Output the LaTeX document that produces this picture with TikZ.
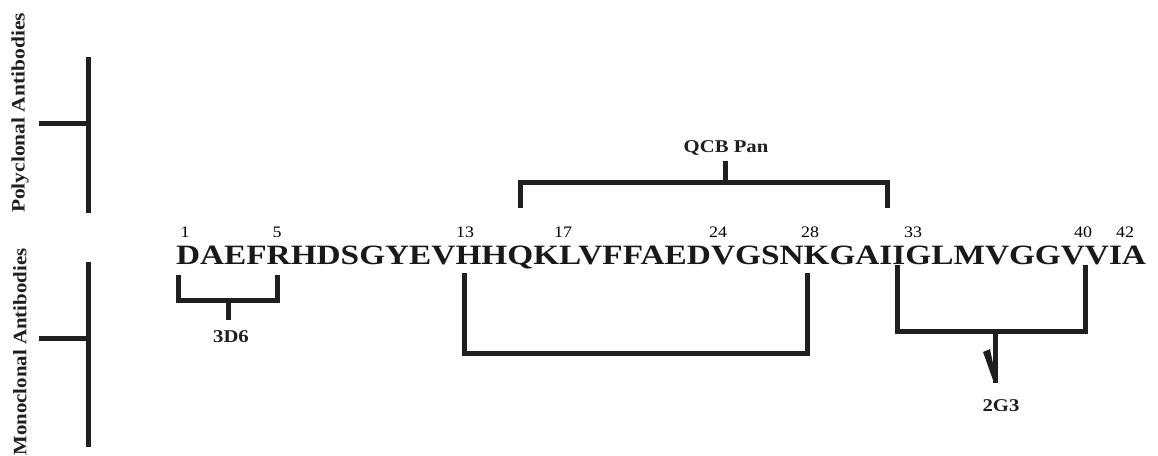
\documentclass[tikz,border=0pt]{standalone}
\usepackage{fontspec}
\setmainfont{Liberation Serif}
\begin{document}
\begin{tikzpicture}[x=1pt,y=-1pt,
  bar/.style={line width=5pt, draw=black!88, line join=miter},
  seqfont/.style={font=\fontsize{28}{28}\selectfont\bfseries, inner sep=0pt, outer sep=0pt},
  numlab/.style={font=\fontsize{16}{16}\selectfont, inner sep=0pt, anchor=base},
  ablab/.style={font=\fontsize{18}{18}\selectfont\bfseries, inner sep=0pt, text=black!88},
  sidelab/.style={font=\fontsize{19}{19}\selectfont\bfseries, inner sep=0pt, rotate=90, text=black!88}]
\useasboundingbox (0,0) rectangle (1158,455);
% side labels
\node[sidelab] (poly) at (20,113) {\scalebox{1.13}[1]{Polyclonal Antibodies}};
\node[sidelab] (mono) at (20,352) {\scalebox{1.1}[1]{Monoclonal Antibodies}};
% side brackets
\coordinate (pt) at (88,57); \coordinate (pb) at (88,213);
\coordinate (ph) at (39,123); \coordinate (pj) at (88,123);
\draw[bar] (pt) -- (pb);
\draw[bar] (ph) -- (pj);
\coordinate (mt) at (88,262); \coordinate (mb) at (88,447);
\coordinate (mh) at (39,338); \coordinate (mj) at (88,338);
\draw[bar] (mt) -- (mb);
\draw[bar] (mh) -- (mj);
% sequence
\node[seqfont, anchor=base west, text=black!90] (seq) at (176,264)
  {\scalebox{1.19}[1]{DAEFRHDSGYEVHHQKLVFFAEDVGSNKGAIIGLMVGGVVIA}};
% numbers
\node[numlab] (n1) at (185,237) {\scalebox{1.12}[1]{1}};
\node[numlab] (n5) at (277,237) {\scalebox{1.12}[1]{5}};
\node[numlab] (n13) at (465,237) {\scalebox{1.12}[1]{13}};
\node[numlab] (n17) at (563,237) {\scalebox{1.12}[1]{17}};
\node[numlab] (n24) at (718,237) {\scalebox{1.12}[1]{24}};
\node[numlab] (n28) at (810,237) {\scalebox{1.12}[1]{28}};
\node[numlab] (n33) at (913,237) {\scalebox{1.12}[1]{33}};
\node[numlab] (n40) at (1083,237) {\scalebox{1.12}[1]{40}};
\node[numlab] (n42) at (1125,237) {\scalebox{1.12}[1]{42}};
% QCB Pan
\node[ablab] (qcb) at (726,148) {\scalebox{1.15}[1]{QCB Pan}};
\coordinate (q1) at (520,208); \coordinate (q2) at (520,182);
\coordinate (q3) at (887,182); \coordinate (q4) at (887,208);
\coordinate (qs) at (725,182); \coordinate (qt) at (725,161);
\draw[bar] (q1) -- (q2) -- (q3) -- (q4);
\draw[bar] (qs) -- (qt);
% 3D6
\coordinate (a1) at (178,275); \coordinate (a2) at (178,300);
\coordinate (a3) at (277,300); \coordinate (a4) at (277,275);
\coordinate (as) at (228,300); \coordinate (at) at (228,320);
\draw[bar] (a1) -- (a2) -- (a3) -- (a4);
\draw[bar] (as) -- (at);
\node[ablab] (d36) at (231,337) {\scalebox{1.15}[1]{3D6}};
% middle bracket
\coordinate (b1) at (464,273); \coordinate (b2) at (464,353);
\coordinate (b3) at (807,353); \coordinate (b4) at (807,273);
\draw[bar] (b1) -- (b2) -- (b3) -- (b4);
% 2G3
\coordinate (c1) at (897,265); \coordinate (c2) at (897,331);
\coordinate (c3) at (1085,331); \coordinate (c4) at (1085,265);
\coordinate (cs) at (995,331); \coordinate (ct) at (995,383);
\draw[bar] (c1) -- (c2) -- (c3) -- (c4);
\draw[bar] (cs) -- (ct);
\fill[black!88] (983,352) -- (990,349) -- (996,378) -- (993,380) -- cycle;
\node[ablab] (g23) at (1001,406) {\scalebox{1.15}[1]{2G3}};
\end{tikzpicture}
\end{document}
